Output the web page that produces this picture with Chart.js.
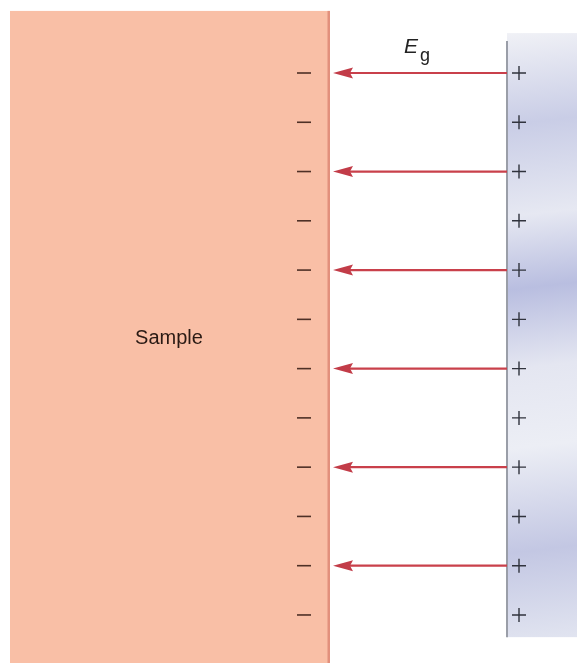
<!DOCTYPE html>
<html>
<head>
<meta charset="utf-8">
<script src="https://cdn.jsdelivr.net/npm/chart.js@4/dist/chart.umd.min.js"></script>
<style>
html,body{margin:0;padding:0;background:#fff;}
#wrap{width:577px;height:663px;}
</style>
</head>
<body>
<div id="wrap"><canvas id="c" width="577" height="663"></canvas></div>
<script>
// ---- data ----
const chargeRows = [1,2,3,4,5,6,7,8,9,10,11,12];   // rows carrying charges
const arrowRows = [1,3,5,7,9,11];                  // rows with field arrows
const sampleLabel = 'Sample';
const fieldLabel = 'E';
const fieldSub = 'g';

// ---- layout (pixel-like x units, row units on y) ----
const L = {
  sampleLeft: 10, sampleRight: 330, sampleTop: -0.26,
  minusX: 304, plusX: 519,
  plateX: 507, plateTop: 0.35, plateBottom: 12.45, plateGradTop: 0.19,
  arrowTip: 333, arrowStart: 507,
  yMin: 1 - 73/49.27, yMax: 1 - 73/49.27 + 663/49.27
};

const minusPts = chargeRows.map(r => ({x: L.minusX, y: r}));
const plusPts = chargeRows.map(r => ({x: L.plusX, y: r}));
const arrowPts = [];
arrowRows.forEach(r => { arrowPts.push({x: L.arrowStart, y: r}); arrowPts.push({x: L.arrowTip + 14, y: r}); arrowPts.push({x: null, y: null}); });

const diagramPlugin = {
  id: 'diagram',
  beforeDatasetsDraw(chart) {
    const ctx = chart.ctx, xs = chart.scales.x, ys = chart.scales.y;
    const X = v => xs.getPixelForValue(v), Y = v => ys.getPixelForValue(v);
    ctx.save();
    // sample block
    const sl = X(L.sampleLeft), sr = X(L.sampleRight), st = Y(L.sampleTop);
    ctx.fillStyle = '#f9bfa6';
    ctx.fillRect(sl, st, sr - sl, chart.height - st);
    ctx.fillStyle = '#e2907c';
    ctx.fillRect(sr - 2.5, st, 2.5, chart.height - st);
    // plate gradient
    const px = X(L.plateX), gt = Y(L.plateGradTop), pb = Y(L.plateBottom);
    const g = ctx.createLinearGradient(px, gt, chart.width, pb);
    g.addColorStop(0.0, '#f0f1f6');
    g.addColorStop(0.15, '#c9cde6');
    g.addColorStop(0.3, '#e6e8f2');
    g.addColorStop(0.42, '#b9bee0');
    g.addColorStop(0.55, '#e4e6f1');
    g.addColorStop(0.68, '#eceef5');
    g.addColorStop(0.85, '#c3c7e3');
    g.addColorStop(1.0, '#e1e4f0');
    ctx.fillStyle = g;
    ctx.fillRect(px, gt, chart.width - px, pb - gt);
    // plate line
    ctx.strokeStyle = '#9a9ea8';
    ctx.lineWidth = 2;
    ctx.beginPath();
    ctx.moveTo(px, Y(L.plateTop));
    ctx.lineTo(px, pb);
    ctx.stroke();
    // sample label
    ctx.fillStyle = '#2a1a14';
    ctx.font = '20px "Liberation Sans", Arial, sans-serif';
    ctx.textAlign = 'center';
    ctx.textBaseline = 'middle';
    ctx.fillText(sampleLabel, X(169), Y(6.38));
    // field label
    ctx.fillStyle = '#222';
    ctx.textAlign = 'left';
    ctx.textBaseline = 'alphabetic';
    ctx.font = 'italic 21px "Liberation Sans", Arial, sans-serif';
    ctx.fillText(fieldLabel, X(404), Y(0.6));
    ctx.font = '18px "Liberation Sans", Arial, sans-serif';
    ctx.fillText(fieldSub, X(420), Y(0.75));
    ctx.restore();
  },
  afterDatasetsDraw(chart) {
    const ctx = chart.ctx, xs = chart.scales.x, ys = chart.scales.y;
    ctx.save();
    ctx.fillStyle = '#c23c48';
    arrowRows.forEach(r => {
      const tx = xs.getPixelForValue(L.arrowTip), y = ys.getPixelForValue(r);
      ctx.beginPath();
      ctx.moveTo(tx, y);
      ctx.lineTo(tx + 20, y - 5.5);
      ctx.lineTo(tx + 17, y);
      ctx.lineTo(tx + 20, y + 5.5);
      ctx.closePath();
      ctx.fill();
    });
    ctx.restore();
  }
};

new Chart(document.getElementById('c'), {
  type: 'scatter',
  data: {
    datasets: [
      { data: arrowPts, showLine: true, spanGaps: false, borderColor: '#c9404b', borderWidth: 2.2, pointRadius: 0 },
      { data: minusPts, pointStyle: 'line', pointRadius: 7, borderColor: '#4e3026', borderWidth: 1.6, backgroundColor: '#4e3026' },
      { data: plusPts, pointStyle: 'cross', pointRadius: 7, borderColor: '#30333d', borderWidth: 1.4, backgroundColor: '#30333d' }
    ]
  },
  options: {
    responsive: false,
    animation: false,
    events: [],
    layout: { padding: 0, autoPadding: false },
    plugins: { legend: { display: false }, tooltip: { enabled: false } },
    scales: {
      x: { type: 'linear', min: 0, max: 577, display: false },
      y: { type: 'linear', min: L.yMin, max: L.yMax, reverse: true, display: false }
    }
  },
  plugins: [diagramPlugin]
});
</script>
</body>
</html>
